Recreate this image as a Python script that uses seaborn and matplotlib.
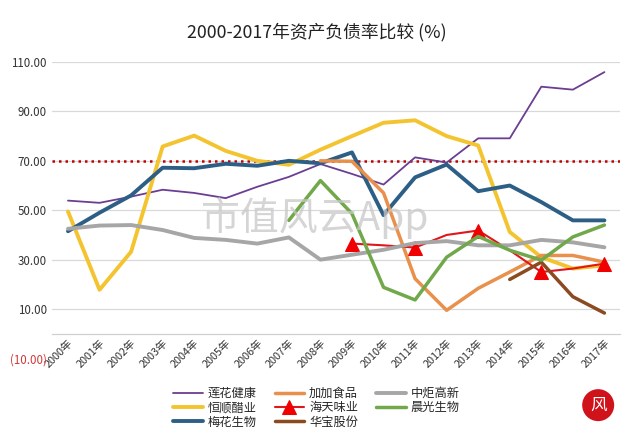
import numpy as np
import pandas as pd
import matplotlib
matplotlib.use("Agg")
import matplotlib.pyplot as plt
import seaborn as sns

years = [f"{y}年" for y in range(2000, 2018)]
nan = np.nan

lianhua = [53.9, 53.0, 55.5, 58.3, 57.0, 54.9, 59.5, 63.5, 68.7, 64.7, 60.4, 71.4, 69.3, 79.1, 79.1, 100.0, 98.8, 105.9]
hengshun = [49.5, 17.8, 33.2, 75.8, 80.2, 74.0, 70.0, 68.4, 74.5, 80.0, 85.4, 86.4, 80.0, 76.2, 41.2, 31.0, 26.4, 27.7]
meihua = [41.5, 49.0, 56.0, 67.2, 67.0, 68.8, 68.0, 70.0, 69.0, 73.4, 48.0, 63.3, 68.5, 57.7, 60.0, 53.3, 45.9, 45.9]
jiajia = [nan, nan, nan, nan, nan, nan, nan, nan, 70.0, 69.8, 57.0, 22.3, 9.5, 18.4, 25.0, 31.7, 31.7, 29.0]
haitian = [nan, nan, nan, nan, nan, nan, nan, nan, nan, 36.5, 35.8, 34.9, 40.0, 41.8, 33.8, 25.0, 26.4, 28.4]
huabao = [nan, nan, nan, nan, nan, nan, nan, nan, nan, nan, nan, nan, nan, nan, 22.0, 29.0, 15.0, 8.4]
zhongju = [42.5, 43.8, 44.0, 42.0, 38.8, 38.0, 36.5, 39.0, 30.0, 32.0, 34.0, 36.7, 37.5, 35.8, 35.8, 38.0, 37.0, 35.0]
chenguang = [nan, nan, nan, nan, nan, nan, nan, 45.9, 62.0, 48.6, 18.8, 13.7, 31.0, 39.4, 33.8, 29.8, 39.2, 44.0]

names = ["莲花健康", "恒顺醋业", "梅花生物", "加加食品", "海天味业", "华宝股份", "中炬高新", "晨光生物"]
series = [lianhua, hengshun, meihua, jiajia, haitian, huabao, zhongju, chenguang]
yticks = [-10, 10, 30, 50, 70, 90, 110]
ytick_labels = ["(10.00)", "10.00", "30.00", "50.00", "70.00", "90.00", "110.00"]
threshold = 70

styles = {
    "莲花健康": dict(color="#6B3E91", lw=1.3),
    "恒顺醋业": dict(color="#F4C430", lw=2.8),
    "梅花生物": dict(color="#2D5F86", lw=2.8),
    "加加食品": dict(color="#E8904C", lw=2.5),
    "海天味业": dict(color="#E0161B", lw=1.5),
    "华宝股份": dict(color="#8B4A20", lw=2.5),
    "中炬高新": dict(color="#A6A6A6", lw=2.8),
    "晨光生物": dict(color="#70A84A", lw=2.5),
}

sns.set_theme(style="white")
plt.rcParams["font.family"] = ["Noto Sans CJK SC", "DejaVu Sans"]

fig = plt.figure(figsize=(6.29, 4.38), dpi=100)
ax = fig.add_axes([0.083, 0.1815, 0.903, 0.677])

x_idx = np.arange(len(years))
for name, vals in zip(names, series):
    df = pd.DataFrame({"x": x_idx, "v": vals}).dropna()
    st = styles[name]
    kw = dict(color=st["color"], linewidth=st["lw"], label=name, ax=ax, legend=False)
    if name == "海天味业":
        kw.update(marker="^", markersize=10, markevery=2,
                  markerfacecolor="#F00000", markeredgecolor="#F00000")
    sns.lineplot(data=df, x="x", y="v", **kw)

ax.axhline(threshold, color="#C00000", linestyle=(0, (1, 1.6)), linewidth=1.8, zorder=1)

for s in ["left", "right", "top"]:
    ax.spines[s].set_visible(False)
ax.spines["bottom"].set_position(("data", 0))
ax.spines["bottom"].set_color("#D0D0D0")
ax.spines["bottom"].set_linewidth(0.9)

ax.set_xlim(-0.5, len(years) - 0.5)
ax.set_ylim(-10, 110)
ax.set_yticks(yticks)
ax.set_yticklabels(ytick_labels, fontsize=8.3, color="#333333")
ax.get_yticklabels()[0].set_color("#D03A3A")
ax.set_xticks(x_idx)
ax.set_xticklabels(years, rotation=45, ha="right", va="top", rotation_mode="anchor",
                   fontsize=7.8, color="#333333")
ax.tick_params(axis="y", length=0, pad=4)
ax.tick_params(axis="x", length=0, pad=3)
ax.set_xlabel("")
ax.set_ylabel("")

ax.grid(axis="y", color="#D9D9D9", linewidth=0.9)
ax.set_axisbelow(True)
ax.yaxis.get_gridlines()[0].set_visible(False)

fig.text(0.503, 0.927, "2000-2017年资产负债率比较 (%)", ha="center", va="center",
         fontsize=12.8, color="#222222")

# watermark
fig.text(0.5, 0.502, "市值风云App", ha="center", va="center", fontsize=28,
         color="#C8C8C8", alpha=0.75, zorder=0)

# legend
handles, labels = ax.get_legend_handles_labels()
leg = fig.legend(handles, labels, ncol=3, loc="center", bbox_to_anchor=(0.503, 0.069),
                 frameon=False, fontsize=8.8, handlelength=2.4, handletextpad=0.4,
                 columnspacing=1.5, labelspacing=0.1, borderpad=0.1)

# logo seal
fig.text(0.951, 0.075, "风", ha="center", va="center", fontsize=12, color="white",
         bbox=dict(boxstyle="circle,pad=0.45", fc="#D0121B", ec="none"))

fig.savefig("out.png", dpi=100)
